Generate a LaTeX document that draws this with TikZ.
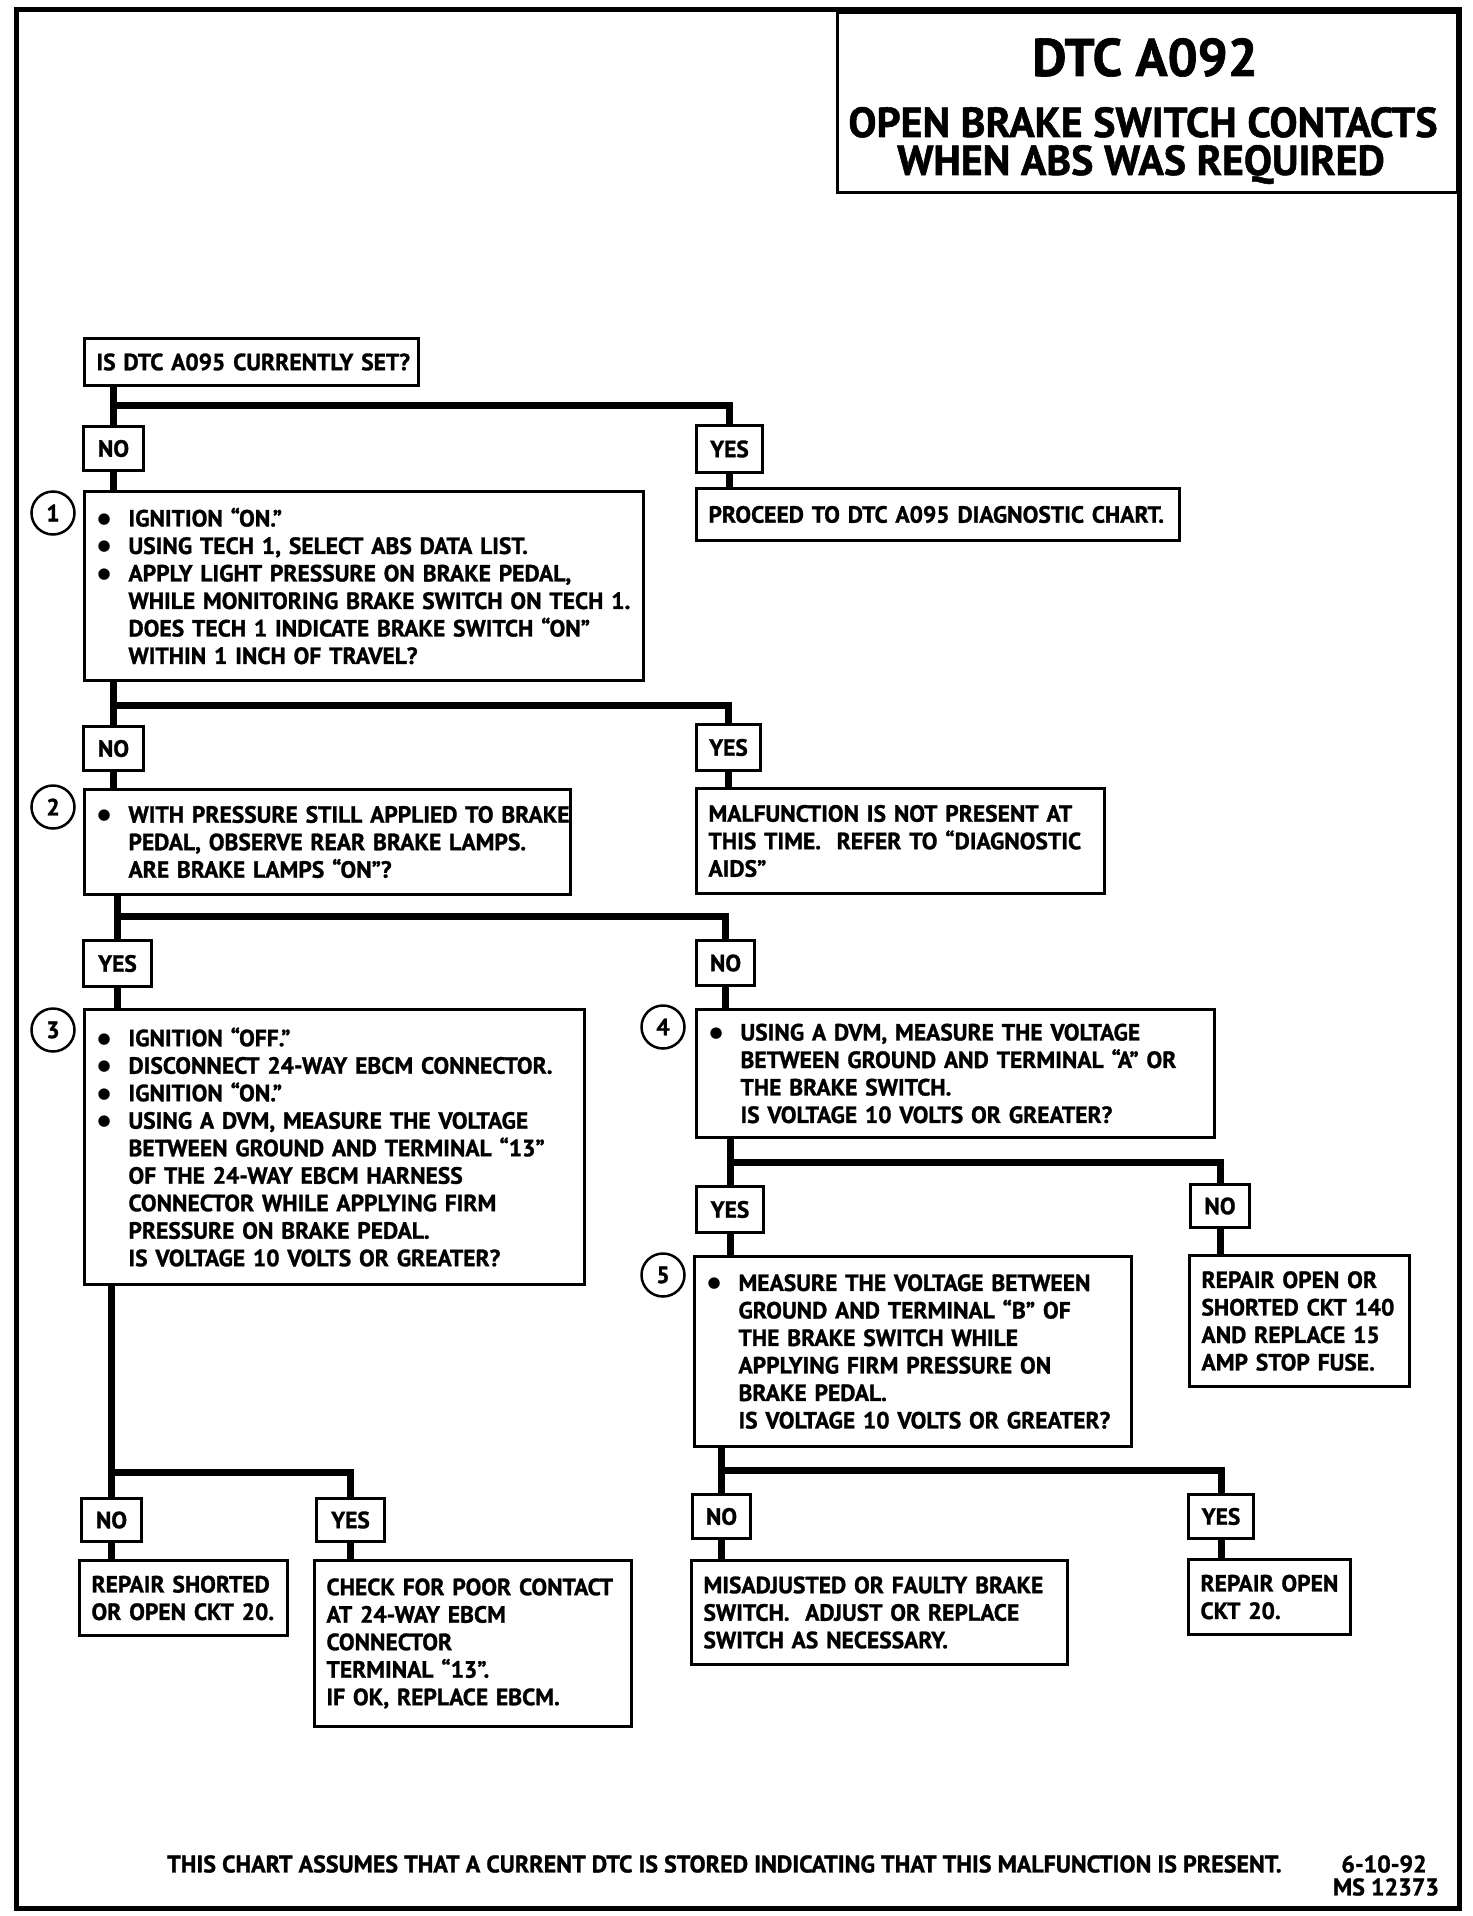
\documentclass[tikz,border=0pt]{standalone}
\usepackage{fontspec}
\setmainfont{PT Sans}[BoldFeatures={FakeBold=1.2}]
\newfontfamily\symf{DejaVu Sans}
\newcommand\bodyfont{\fontsize{23.5}{27.5}\selectfont\bfseries}
\newcommand\BigBul{\makebox[32pt][l]{\hspace{1pt}\raisebox{3pt}{\symf\fontsize{15}{15}\selectfont ●}}}
\newcommand\BulL[1]{\mbox{\BigBul#1}}
\newcommand\ContL[1]{\mbox{\hspace*{32pt}#1}}
\newcommand\PlainL[1]{\mbox{#1}}
\begin{document}
\begin{tikzpicture}[x=1pt,y=-1pt,
  box/.style={draw, line width=3pt, anchor=north west, inner xsep=12pt, inner ysep=0pt, align=left, font=\bodyfont},
  lab/.style={draw, line width=3pt, anchor=north west, inner sep=0pt, align=center, font=\bodyfont},
  num/.style={draw, circle, line width=2.5pt, minimum size=43pt, inner sep=0pt, font=\bodyfont},
  conn/.style={line width=7pt, line join=miter},
  ttl/.style={font=\fontsize{53}{53}\selectfont\bfseries, inner sep=0pt, anchor=base},
  sub/.style={font=\fontsize{42}{42}\selectfont\bfseries, inner sep=0pt, anchor=base},
  foot/.style={font=\fontsize{24}{24}\selectfont\bfseries, inner sep=0pt}]
\useasboundingbox (0,0) rectangle (1472,1916);
\draw[line width=5pt] (16,10) rectangle (1459,1908);
% title
\node[draw, line width=3pt, anchor=north west, minimum width=620pt, minimum height=180pt, inner sep=0pt] (tbox) at (836,11) {};
\node[ttl] (t1) at (1145,76) {DTC A092};
\node[sub] (t2) at (1143,137) {OPEN BRAKE SWITCH CONTACTS};
\node[sub] (t3) at (1141,175) {WHEN ABS WAS REQUIRED};
% boxes
\node[box, text width=310pt, minimum height=47pt] (q0) at (83,337) {\PlainL{IS DTC A095 CURRENTLY SET?}};
\node[lab, minimum width=60pt, minimum height=44pt] (no1) at (82,425) {NO};
\node[lab, minimum width=66pt, minimum height=47pt] (yes1) at (695,424) {YES};
\node[box, text width=535pt, minimum height=189pt] (b1) at (83,490) {\BulL{IGNITION “ON.”}\\\BulL{USING TECH 1, SELECT ABS DATA LIST.}\\\BulL{APPLY LIGHT PRESSURE ON BRAKE PEDAL,}\\\ContL{WHILE MONITORING BRAKE SWITCH ON TECH 1.}\\\ContL{DOES TECH 1 INDICATE BRAKE SWITCH “ON”}\\\ContL{WITHIN 1 INCH OF TRAVEL?}};
\node[num] (c1) at (53,513) {1};
\node[box, text width=459pt, minimum height=52pt] (proc) at (695,487) {\PlainL{PROCEED TO DTC A095 DIAGNOSTIC CHART.}};
\node[lab, minimum width=60pt, minimum height=44pt] (no2) at (82,725) {NO};
\node[lab, minimum width=64pt, minimum height=46pt] (yes2) at (695,723) {YES};
\node[box, text width=462pt, minimum height=105pt] (b2) at (83,788) {\BulL{WITH PRESSURE STILL APPLIED TO BRAKE}\\\ContL{PEDAL, OBSERVE REAR BRAKE LAMPS.}\\\ContL{ARE BRAKE LAMPS “ON”?}};
\node[num] (c2) at (53,807) {2};
\node[box, text width=384pt, minimum height=105pt] (mal) at (695,787) {\PlainL{MALFUNCTION IS NOT PRESENT AT}\\\PlainL{THIS TIME.\ \ REFER TO “DIAGNOSTIC}\\\PlainL{AIDS”}};
\node[lab, minimum width=68pt, minimum height=46pt] (yes3) at (82,939) {YES};
\node[lab, minimum width=58pt, minimum height=45pt] (no3) at (695,939) {NO};
\node[box, text width=476pt, minimum height=275pt] (b3) at (83,1008) {\BulL{IGNITION “OFF.”}\\\BulL{DISCONNECT 24-WAY EBCM CONNECTOR.}\\\BulL{IGNITION “ON.”}\\\BulL{USING A DVM, MEASURE THE VOLTAGE}\\\ContL{BETWEEN GROUND AND TERMINAL “13”}\\\ContL{OF THE 24-WAY EBCM HARNESS}\\\ContL{CONNECTOR WHILE APPLYING FIRM}\\\ContL{PRESSURE ON BRAKE PEDAL.}\\\ContL{IS VOLTAGE 10 VOLTS OR GREATER?}};
\node[num] (c3) at (53,1030) {3};
\node[box, text width=494pt, minimum height=128pt] (b4) at (695,1008) {\BulL{USING A DVM, MEASURE THE VOLTAGE}\\\ContL{BETWEEN GROUND AND TERMINAL “A” OR}\\\ContL{THE BRAKE SWITCH.}\\\ContL{IS VOLTAGE 10 VOLTS OR GREATER?}};
\node[num] (c4) at (663,1027) {4};
\node[lab, minimum width=67pt, minimum height=46pt] (yes4) at (695,1185) {YES};
\node[lab, minimum width=59pt, minimum height=43pt] (no4) at (1189,1183) {NO};
\node[box, text width=413pt, minimum height=190pt] (b5) at (693,1255) {\BulL{MEASURE THE VOLTAGE BETWEEN}\\\ContL{GROUND AND TERMINAL “B” OF}\\\ContL{THE BRAKE SWITCH WHILE}\\\ContL{APPLYING FIRM PRESSURE ON}\\\ContL{BRAKE PEDAL.}\\\ContL{IS VOLTAGE 10 VOLTS OR GREATER?}};
\node[num] (c5) at (663,1275) {5};
\node[box, text width=196pt, minimum height=131pt] (rep140) at (1188,1254) {\PlainL{REPAIR OPEN OR}\\\PlainL{SHORTED CKT 140}\\\PlainL{AND REPLACE 15}\\\PlainL{AMP STOP FUSE.}};
\node[lab, minimum width=60pt, minimum height=43pt] (no5) at (80,1497) {NO};
\node[lab, minimum width=68pt, minimum height=43pt] (yes5) at (315,1497) {YES};
\node[box, text width=184pt, minimum height=75pt] (rep20s) at (78,1559) {\PlainL{REPAIR SHORTED}\\\PlainL{OR OPEN CKT 20.}};
\node[box, text width=293pt, minimum height=166pt] (chk) at (313,1559) {\PlainL{CHECK FOR POOR CONTACT}\\\PlainL{AT 24-WAY EBCM}\\\PlainL{CONNECTOR}\\\PlainL{TERMINAL “13”.}\\\PlainL{IF OK, REPLACE EBCM.}};
\node[lab, minimum width=58pt, minimum height=44pt] (no6) at (691,1493) {NO};
\node[lab, minimum width=65pt, minimum height=44pt] (yes6) at (1187,1493) {YES};
\node[box, text width=352pt, minimum height=104pt] (mis) at (690,1559) {\PlainL{MISADJUSTED OR FAULTY BRAKE}\\\PlainL{SWITCH.\ \ ADJUST OR REPLACE}\\\PlainL{SWITCH AS NECESSARY.}};
\node[box, text width=138pt, minimum height=75pt] (rep20o) at (1187,1558) {\PlainL{REPAIR OPEN}\\\PlainL{CKT 20.}};
% junction levels
\coordinate (j1) at (0,405);
\coordinate (j2) at (0,705);
\coordinate (j3) at (0,916);
\coordinate (j4) at (0,1162);
\coordinate (j5) at (0,1472);
\coordinate (j6) at (0,1470);
% connectors
\draw[conn] (q0.south -| no1.north) -- (no1.north);
\draw[conn] (no1.north |- j1) -| (yes1.north);
\draw[conn] (no1.south) -- (no1.south |- b1.north);
\draw[conn] (yes1.south) -- (yes1.south |- proc.north);
\draw[conn] (b1.south -| no2.north) -- (no2.north);
\draw[conn] (no2.north |- j2) -| (yes2.north);
\draw[conn] (no2.south) -- (no2.south |- b2.north);
\draw[conn] (yes2.south) -- (yes2.south |- mal.north);
\draw[conn] (b2.south -| yes3.north) -- (yes3.north);
\draw[conn] (yes3.north |- j3) -| (no3.north);
\draw[conn] (yes3.south) -- (yes3.south |- b3.north);
\draw[conn] (no3.south) -- (no3.south |- b4.north);
\draw[conn] (b4.south -| yes4.north) -- (yes4.north);
\draw[conn] (yes4.north |- j4) -| (no4.north);
\draw[conn] (yes4.south) -- (yes4.south |- b5.north);
\draw[conn] (no4.south) -- (no4.south |- rep140.north);
\draw[conn] (b3.south -| no5.north) -- (no5.north);
\draw[conn] (no5.north |- j5) -| (yes5.north);
\draw[conn] (no5.south) -- (no5.south |- rep20s.north);
\draw[conn] (yes5.south) -- (yes5.south |- chk.north);
\draw[conn] (b5.south -| no6.north) -- (no6.north);
\draw[conn] (no6.north |- j6) -| (yes6.north);
\draw[conn] (no6.south) -- (no6.south |- mis.north);
\draw[conn] (yes6.south) -- (yes6.south |- rep20o.north);
% footer
\node[foot, anchor=west] (ft) at (167,1864) {THIS CHART ASSUMES THAT A CURRENT DTC IS STORED INDICATING THAT THIS MALFUNCTION IS PRESENT.};
\node[foot] (dt) at (1384,1864) {6-10-92};
\node[foot] (ms) at (1386,1887) {MS 12373};
\end{tikzpicture}
\end{document}
